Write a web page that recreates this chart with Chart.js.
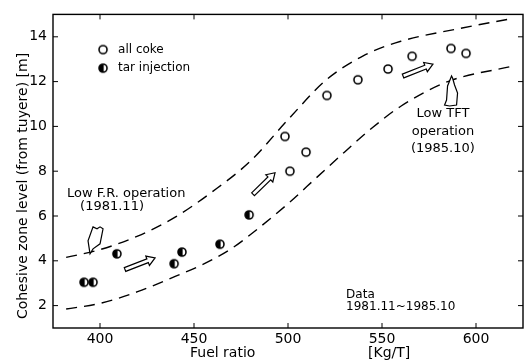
<!DOCTYPE html>
<html>
<head>
<meta charset="utf-8">
<script src="https://cdn.jsdelivr.net/npm/chart.js@4"></script>
<style>
  body { margin: 0; background: #fff; }
  #wrap { width: 528px; height: 364px; }
</style>
</head>
<body>
<div id="wrap"><canvas id="cohesive-chart"></canvas></div>
<script>
// data
const xTicks = [400, 450, 500, 550, 600]
const yTicks = [2, 4, 6, 8, 10, 12, 14]

const allCokeX = [498.4, 501, 509.6, 520.7, 537.2, 553.2, 566, 586.7, 594.7]
const allCokeY = [9.55, 8.0, 8.85, 11.38, 12.08, 12.56, 13.13, 13.48, 13.26]

const tarX = [391.5, 396.3, 409, 439.4, 443.6, 463.8, 479.3]
const tarY = [3.04, 3.04, 4.31, 3.87, 4.39, 4.74, 6.05]

const upperX = [382, 400, 420, 440, 460, 480, 500, 520, 540, 560, 590, 620]
const upperY = [4.15, 4.5, 5.1, 5.95, 7.1, 8.45, 10.3, 12.05, 13.15, 13.8, 14.35, 14.83]

const lowerX = [382, 400, 420, 440, 455, 470, 485, 500, 515, 530, 545, 560, 585, 620]
const lowerY = [1.85, 2.1, 2.62, 3.3, 3.85, 4.55, 5.5, 6.55, 7.7, 8.85, 9.95, 10.9, 12.0, 12.7]

const toPoints = (xs, ys) => xs.map((x, i) => ({ x: x, y: ys[i] }))

// marker images
function makeMarker(half) {
  const c = document.createElement("canvas")
  c.width = 12
  c.height = 12
  const g = c.getContext("2d")
  g.beginPath()
  g.arc(6, 6, 4, 0, Math.PI * 2)
  g.fillStyle = "#fff"
  g.fill()
  if (half) {
    g.beginPath()
    g.arc(6, 6, 4, Math.PI * 0.45, Math.PI * 1.55)
    g.closePath()
    g.fillStyle = "#000"
    g.fill()
  }
  g.beginPath()
  g.arc(6, 6, 4, 0, Math.PI * 2)
  g.lineWidth = 1.6
  g.strokeStyle = "#000"
  g.stroke()
  return c
}
const openMarker = makeMarker(false)
const halfMarker = makeMarker(true)

const FONT = "'DejaVu Sans', sans-serif"

// annotations
const notes = [
  { text: "Low F.R. operation", x: 382.4, y: 7.0, align: "left", size: 13 },
  { text: "(1981.11)", x: 406.4, y: 6.4, align: "center", size: 13 },
  { text: "Low TFT", x: 582.4, y: 10.55, align: "center", size: 13 },
  { text: "operation", x: 582.4, y: 9.76, align: "center", size: 13 },
  { text: "(1985.10)", x: 582.4, y: 9.02, align: "center", size: 13 },
  { text: "Data", x: 530.9, y: 2.47, align: "left", size: 12 },
  { text: "1981.11~1985.10", x: 530.9, y: 1.95, align: "left", size: 12 },
]
const blockArrows = [
  [413.3, 3.61, 429.3, 4.13],
  [481.4, 6.97, 493.1, 7.93],
  [561.2, 12.25, 577.1, 12.78],
]

function drawBlockArrow(ctx, x1, y1, x2, y2) {
  const L = Math.hypot(x2 - x1, y2 - y1)
  ctx.save()
  ctx.translate(x1, y1)
  ctx.rotate(Math.atan2(y2 - y1, x2 - x1))
  ctx.beginPath()
  ctx.moveTo(0, -2)
  ctx.lineTo(L - 8, -2)
  ctx.lineTo(L - 8, -5)
  ctx.lineTo(L, 0)
  ctx.lineTo(L - 8, 5)
  ctx.lineTo(L - 8, 2)
  ctx.lineTo(0, 2)
  ctx.closePath()
  ctx.fillStyle = "#fff"
  ctx.fill()
  ctx.lineWidth = 1.2
  ctx.strokeStyle = "#000"
  ctx.stroke()
  ctx.restore()
}

function drawShape(ctx, x0, y0, pts) {
  ctx.beginPath()
  ctx.moveTo(x0, y0)
  pts.forEach((p) => ctx.lineTo(x0 + p[0], y0 + p[1]))
  ctx.closePath()
  ctx.fillStyle = "#fff"
  ctx.fill()
  ctx.lineWidth = 1.2
  ctx.strokeStyle = "#000"
  ctx.stroke()
}

const decorPlugin = {
  id: "decor",
  afterDraw(chart) {
    const ctx = chart.ctx
    const a = chart.chartArea
    const xs = chart.scales.x
    const ys = chart.scales.y
    const px = (v) => xs.getPixelForValue(v)
    const py = (v) => ys.getPixelForValue(v)
    ctx.save()

    // frame
    ctx.strokeStyle = "#000"
    ctx.lineWidth = 1.4
    ctx.strokeRect(a.left, a.top, a.right - a.left, a.bottom - a.top)

    // inward ticks on all sides
    ctx.lineWidth = 1
    ctx.beginPath()
    xTicks.forEach((v) => {
      ctx.moveTo(px(v), a.bottom)
      ctx.lineTo(px(v), a.bottom - 5)
      ctx.moveTo(px(v), a.top)
      ctx.lineTo(px(v), a.top + 5)
    })
    yTicks.forEach((v) => {
      ctx.moveTo(a.left, py(v))
      ctx.lineTo(a.left + 5, py(v))
      ctx.moveTo(a.right, py(v))
      ctx.lineTo(a.right - 5, py(v))
    })
    ctx.stroke()

    // axis titles
    ctx.fillStyle = "#000"
    ctx.font = "14px " + FONT
    ctx.textBaseline = "middle"
    ctx.textAlign = "left"
    ctx.fillText("Fuel ratio", 190, 353)
    ctx.fillText("[Kg/T]", 368, 353)
    ctx.save()
    ctx.translate(23, 186)
    ctx.rotate(-Math.PI / 2)
    ctx.textAlign = "center"
    ctx.fillText("Cohesive zone level (from tuyere) [m]", 0, 0)
    ctx.restore()

    // legend
    ctx.font = "12px " + FONT
    ctx.textAlign = "left"
    ctx.drawImage(openMarker, px(401.6) - 6, py(13.43) - 6)
    ctx.drawImage(halfMarker, px(401.6) - 6, py(12.6) - 6)
    ctx.fillText("all coke", px(409.6), py(13.43))
    ctx.fillText("tar injection", px(409.6), py(12.6))

    // notes
    notes.forEach((n) => {
      ctx.font = n.size + "px " + FONT
      ctx.textAlign = n.align
      ctx.fillText(n.text, px(n.x), py(n.y))
    })

    // open arrows
    blockArrows.forEach((b) => drawBlockArrow(ctx, px(b[0]), py(b[1]), px(b[2]), py(b[3])))

    // hand drawn pointers
    drawShape(ctx, px(394.7), py(4.31), [[-2, -13], [3, -27], [7, -25], [10, -27], [13, -25], [12, -20], [10, -10], [3, -5]])
    drawShape(ctx, px(587), py(12.25), [[-4, 10], [-5, 24], [-7, 29], [-2, 30], [5, 29], [6, 17], [3, 9], [1, 2]])

    ctx.restore()
  },
}

const chartCanvas = document.getElementById("cohesive-chart")

let cohesiveChart = new Chart(chartCanvas, {
  type: "scatter",
  data: {
    datasets: [
      {
        label: "upper bound",
        type: "line",
        data: toPoints(upperX, upperY),
        borderColor: "#000",
        borderWidth: 1.4,
        borderDash: [11, 7],
        pointRadius: 0,
        fill: false,
        cubicInterpolationMode: "monotone",
      },
      {
        label: "lower bound",
        type: "line",
        data: toPoints(lowerX, lowerY),
        borderColor: "#000",
        borderWidth: 1.4,
        borderDash: [11, 7],
        pointRadius: 0,
        fill: false,
        cubicInterpolationMode: "monotone",
      },
      {
        label: "all coke",
        data: toPoints(allCokeX, allCokeY),
        pointStyle: openMarker,
      },
      {
        label: "tar injection",
        data: toPoints(tarX, tarY),
        pointStyle: halfMarker,
      },
    ],
  },
  options: {
    responsive: true,
    maintainAspectRatio: false,
    animation: false,
    layout: {
      padding: { left: 0, top: 10, right: 4, bottom: 0 },
    },
    scales: {
      x: {
        type: "linear",
        min: 375,
        max: 625,
        afterBuildTicks: (s) => {
          s.ticks = xTicks.map((v) => ({ value: v }))
        },
        afterFit: (s) => {
          s.height = 36
        },
        grid: { display: false, drawTicks: false, tickLength: 0 },
        border: { display: false },
        ticks: {
          color: "#000",
          padding: 3,
          maxRotation: 0,
          font: { family: FONT, size: 14 },
        },
      },
      y: {
        min: 1,
        max: 15,
        afterBuildTicks: (s) => {
          s.ticks = yTicks.map((v) => ({ value: v }))
        },
        afterFit: (s) => {
          s.width = 53
        },
        grid: { display: false, drawTicks: false, tickLength: 0 },
        border: { display: false },
        ticks: {
          color: "#000",
          padding: 6,
          font: { family: FONT, size: 14 },
        },
      },
    },
    plugins: {
      legend: { display: false },
      tooltip: { enabled: false },
    },
  },
  plugins: [decorPlugin],
})
</script>
</body>
</html>
